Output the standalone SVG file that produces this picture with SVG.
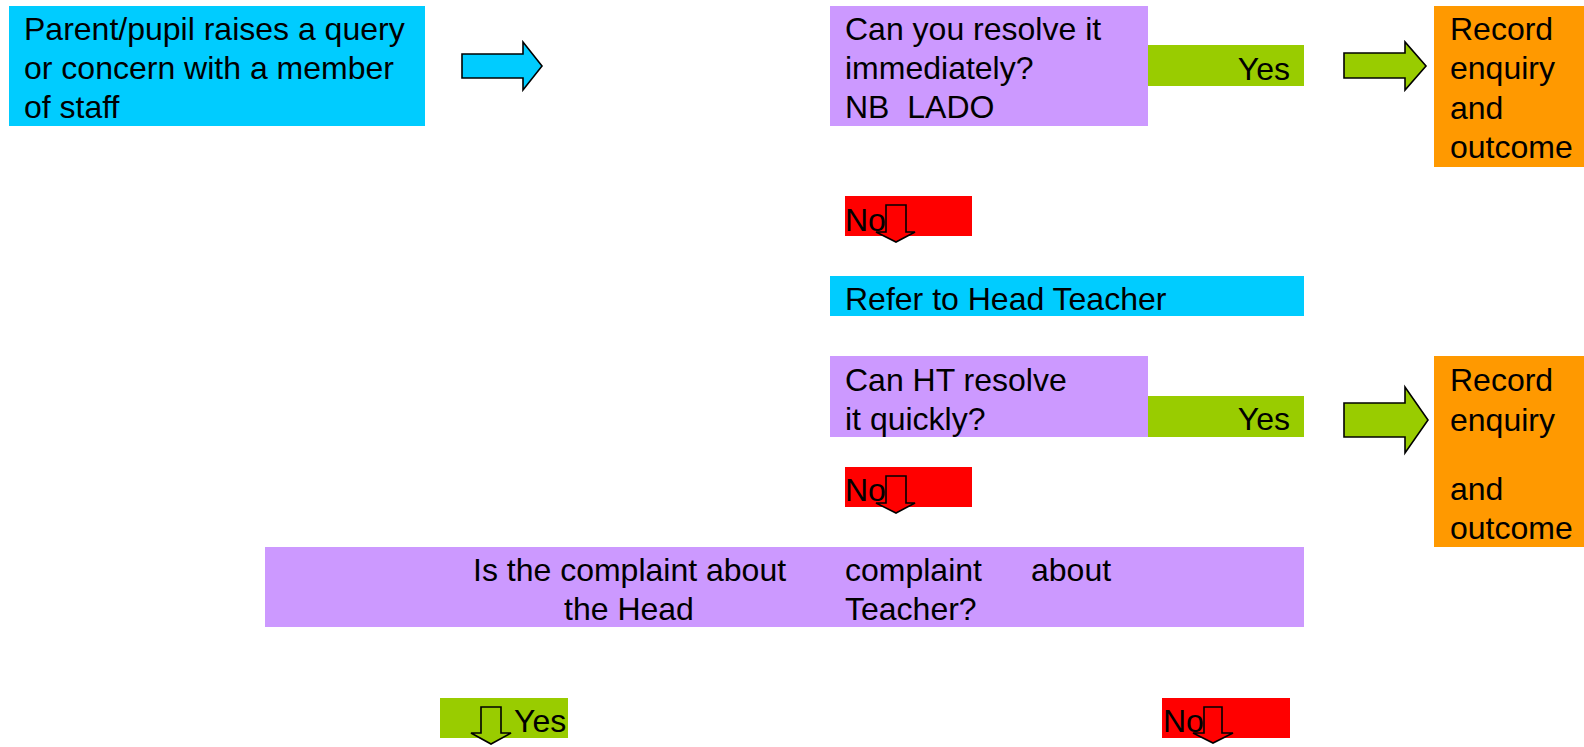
<svg xmlns="http://www.w3.org/2000/svg" width="1584" height="747" viewBox="0 0 1584 747">
<style>
text{font-family:"Liberation Sans",Arial,sans-serif;font-size:32px;fill:#000;white-space:pre}
.blue{fill:#00CCFF}.purple{fill:#CC99FF}.green{fill:#99CC00}.orange{fill:#FF9900}.red{fill:#FF0000}
.arr{stroke:#000;stroke-width:1.6;stroke-linejoin:miter}
</style>
<rect width="1584" height="747" fill="#fff"/>
<g id="node-query">
<rect class="blue" x="9" y="6" width="416" height="120"/>
<text x="24" y="40">Parent/pupil raises a query</text>
<text x="24" y="79">or concern with a member</text>
<text x="24" y="118">of staff</text>
</g>
<g id="node-resolve">
<rect class="purple" x="830" y="6" width="318" height="120"/>
<text x="845" y="40">Can you resolve it</text>
<text x="845" y="79">immediately?</text>
<text x="845" y="118">NB  LADO</text>
</g>
<g id="node-yes1">
<rect class="green" x="1148" y="45" width="156" height="41"/>
<text x="1290" y="80" text-anchor="end">Yes</text>
</g>
<g id="node-record1">
<rect class="orange" x="1434" y="6" width="150" height="161"/>
<text x="1450" y="40">Record</text>
<text x="1450" y="79">enquiry</text>
<text x="1450" y="119">and</text>
<text x="1450" y="158">outcome</text>
</g>
<g id="node-no1">
<rect class="red" x="845" y="196" width="127" height="40"/>
<text x="845" y="231">No</text>
</g>
<g id="node-refer">
<rect class="blue" x="830" y="276" width="474" height="40"/>
<text x="845" y="310">Refer to Head Teacher</text>
</g>
<g id="node-ht">
<rect class="purple" x="830" y="356" width="318" height="81"/>
<text x="845" y="391">Can HT resolve</text>
<text x="845" y="430">it quickly?</text>
</g>
<g id="node-yes2">
<rect class="green" x="1148" y="396" width="156" height="41"/>
<text x="1290" y="430" text-anchor="end">Yes</text>
</g>
<g id="node-record2">
<rect class="orange" x="1434" y="356" width="150" height="191"/>
<text x="1450" y="391">Record</text>
<text x="1450" y="431">enquiry</text>
<text x="1450" y="500">and</text>
<text x="1450" y="539">outcome</text>
</g>
<g id="node-no2">
<rect class="red" x="845" y="467" width="127" height="40"/>
<text x="845" y="501">No</text>
</g>
<g id="node-about-head">
<rect class="purple" x="265" y="547" width="1039" height="80"/>
<text x="473" y="581">Is the complaint about</text>
<text x="845" y="581">complaint</text>
<text x="1031" y="581">about</text>
<text x="564" y="620">the Head</text>
<text x="845" y="620">Teacher?</text>
</g>
<g id="node-yes3">
<rect class="green" x="440" y="698" width="128" height="40"/>
<text x="514" y="732">Yes</text>
</g>
<g id="node-no3">
<rect class="red" x="1162" y="698" width="128" height="40"/>
<text x="1163" y="732">No</text>
</g>
<g id="connectors">
<polygon class="arr blue" points="462,54 523,54 523,42 542,66 523,90 523,78 462,78"/>
<polygon class="arr green" points="1344,53 1405,53 1405,42 1426,66 1405,90 1405,78 1344,78"/>
<polygon class="arr green" points="1344,403 1405,403 1405,387 1428,420 1405,453 1405,437 1344,437"/>
<polygon class="arr red" points="886,205 906,205 906,232 915,232 896,242 876,232 886,232"/>
<polygon class="arr red" points="886,476 906,476 906,503 915,503 896,513 876,503 886,503"/>
<polygon class="arr green" points="481,707 501,707 501,733 511,733 491,744 471,733 481,733"/>
<polygon class="arr red" points="1204,707 1222,707 1222,733 1233,733 1213,743 1193,733 1204,733"/>
</g>
</svg>
